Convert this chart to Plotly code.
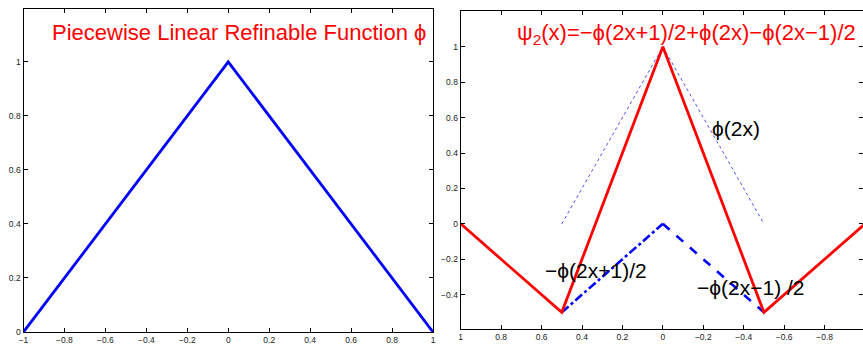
import plotly.graph_objects as go

# Left panel: piecewise linear refinable function phi
phi_x = [-1, 0, 1]
phi_y = [0, 1, 0]

# Right panel
psi_x = [1, 0.5, 0, -0.5, -1]
psi_y = [0, -0.5, 1, -0.5, 0]

phi2x_x = [0.5, 0, -0.5]
phi2x_y = [0, 1, 0]

neg_p1_x = [0.5, 0]
neg_p1_y = [-0.5, 0]

neg_m1_x = [0, -0.5]
neg_m1_y = [0, -0.5]

left_xticks = [-1, -0.8, -0.6, -0.4, -0.2, 0, 0.2, 0.4, 0.6, 0.8, 1]
left_yticks = [0, 0.2, 0.4, 0.6, 0.8, 1]
right_xticks = [1, 0.8, 0.6, 0.4, 0.2, 0, -0.2, -0.4, -0.6, -0.8, -1]
right_yticks = [-0.4, -0.2, 0, 0.2, 0.4, 0.6, 0.8, 1]

W, H = 863, 346
fig = go.Figure()

fig.add_trace(go.Scatter(x=phi_x, y=phi_y, mode="lines",
                         line=dict(color="#0000ff", width=2.8),
                         xaxis="x", yaxis="y", showlegend=False))
fig.add_trace(go.Scatter(x=phi2x_x, y=phi2x_y, mode="lines",
                         line=dict(color="#5050ff", width=1, dash="dot"),
                         xaxis="x2", yaxis="y2", showlegend=False))
fig.add_trace(go.Scatter(x=neg_p1_x, y=neg_p1_y, mode="lines",
                         line=dict(color="#0000ff", width=2.6, dash="dashdot"),
                         xaxis="x2", yaxis="y2", showlegend=False))
fig.add_trace(go.Scatter(x=neg_m1_x, y=neg_m1_y, mode="lines",
                         line=dict(color="#0000ff", width=2.6, dash="dash"),
                         xaxis="x2", yaxis="y2", showlegend=False))
fig.add_trace(go.Scatter(x=psi_x, y=psi_y, mode="lines",
                         line=dict(color="#ff0000", width=2.8),
                         xaxis="x2", yaxis="y2", showlegend=False))

tickfont = dict(family="Liberation Sans, Arial, sans-serif", size=8.5, color="#222222")
axcommon = dict(showline=True, mirror="ticks", linecolor="black", linewidth=1.2,
                ticks="inside", ticklen=4, tickcolor="black", tickwidth=1,
                showgrid=False, zeroline=False, tickfont=tickfont, automargin=False)

fig.update_layout(
    width=W, height=H,
    margin=dict(l=0, r=0, t=0, b=0, pad=0),
    paper_bgcolor="white", plot_bgcolor="white",
    xaxis=dict(domain=[23.5 / W, 433 / W], range=[-1, 1], tickvals=left_xticks,
               ticktext=[("%g" % v).replace("-", "\u2212") for v in left_xticks],
               anchor="y", **axcommon),
    yaxis=dict(domain=[1 - 332 / H, 1 - 9 / H], range=[0, 1.196], tickvals=left_yticks,
               ticktext=["%g" % v for v in left_yticks], anchor="x", **axcommon),
    xaxis2=dict(domain=[460.7 / W, 1.0], range=[1, -0.99], tickvals=right_xticks,
                ticktext=[("%g" % v).replace("-", "\u2212") for v in right_xticks],
                anchor="y2", **axcommon),
    yaxis2=dict(domain=[1 - 329 / H, 1 - 11 / H], range=[-0.594, 1.202], tickvals=right_yticks,
                ticktext=[("%g" % v).replace("-", "\u2212") for v in right_yticks],
                anchor="x2", **axcommon),
)

red_font = dict(family="Liberation Sans, Arial, sans-serif", size=22, color="#ff0000")
blk_font = dict(family="Liberation Sans, Arial, sans-serif", size=21, color="black")

fig.add_annotation(text="Piecewise Linear Refinable Function \u03d5", x=239 / W, y=1 - 33 / H,
                   xref="paper", yref="paper", showarrow=False, font=red_font,
                   xanchor="center", yanchor="middle")
fig.add_annotation(text="\u03c8<sub>2</sub>(x)=\u2212\u03d5(2x+1)/2+\u03d5(2x)\u2212\u03d5(2x\u22121)/2",
                   x=686.5 / W, y=1 - 34 / H,
                   xref="paper", yref="paper", showarrow=False, font=red_font,
                   xanchor="center", yanchor="middle")
fig.add_annotation(text="\u03d5(2x)", x=-0.233, y=0.541, xref="x2", yref="y2",
                   showarrow=False, font=blk_font, xanchor="left", yanchor="middle")
fig.add_annotation(text="\u2212\u03d5(2x+1)/2", x=0.594, y=-0.261, xref="x2", yref="y2",
                   showarrow=False, font=blk_font, xanchor="left", yanchor="middle")
fig.add_annotation(text="\u2212\u03d5(2x\u22121) /2", x=-0.158, y=-0.357, xref="x2", yref="y2",
                   showarrow=False, font=blk_font, xanchor="left", yanchor="middle")

fig.write_html("out.html", config={"displayModeBar": False},
               post_script="document.body.style.margin='0';document.body.style.overflow='hidden';")
